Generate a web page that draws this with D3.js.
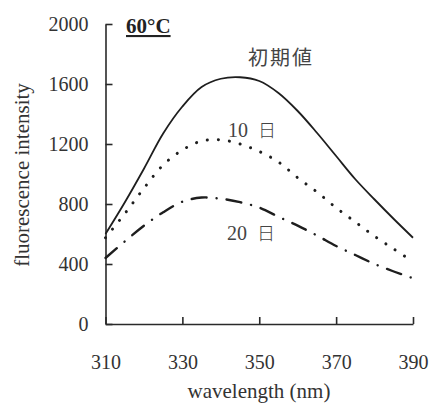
<!DOCTYPE html>
<html>
<head>
<meta charset="utf-8">
<script src="https://cdn.jsdelivr.net/npm/d3@7"></script>
<style>
    body { margin: 0; background: #fff; }
    svg text { font-family: "Liberation Serif", serif; }
</style>
</head>
<body>
<svg id="chart"></svg>
<script>
(function () {

    // Data (wavelength in nm, intensity)
    const wavelengths = [310, 315, 320, 325, 330, 335, 340, 345, 350, 355, 360, 365, 370, 375, 380, 385, 390];
    const initialValues = [600, 810, 1035, 1270, 1450, 1580, 1635, 1645, 1620, 1540, 1420, 1275, 1120, 965, 830, 700, 575];
    const day10Values = [575, 735, 905, 1060, 1160, 1220, 1228, 1200, 1150, 1080, 975, 880, 775, 680, 585, 500, 415];
    const day20Values = [440, 550, 655, 745, 815, 843, 835, 812, 776, 715, 656, 590, 520, 460, 400, 350, 305];
    const xTicks = [310, 330, 350, 370, 390];
    const yTicks = [0, 400, 800, 1200, 1600, 2000];

    const width = 430,
        height = 407;

    const svg = d3.select("#chart")
        .attr("width", width)
        .attr("height", height);

    const x = d3.scaleLinear().domain([310, 390]).range([105.5, 413]);
    const y = d3.scaleLinear().domain([0, 2000]).range([324, 24]);

    // Axes, ticks pointing inward
    const xAxis = svg.append("g")
        .attr("transform", "translate(0," + y(0) + ")")
        .call(d3.axisBottom(x).tickValues(xTicks).tickFormat(d3.format("d"))
            .tickSizeInner(-7).tickSizeOuter(0).tickPadding(31));

    const yAxis = svg.append("g")
        .attr("transform", "translate(" + x(310) + ",0)")
        .call(d3.axisLeft(y).tickValues(yTicks).tickFormat(d3.format("d"))
            .tickSizeInner(-7).tickSizeOuter(0).tickPadding(17));

    [xAxis, yAxis].forEach((g) => {
        g.attr("font-family", "Liberation Serif").attr("font-size", 20);
        g.selectAll("path, line").attr("stroke", "#2a2a2a").attr("stroke-width", 1.6);
        g.selectAll("text")
            .attr("fill", "#333")
            .attr("font-family", "Liberation Serif")
            .attr("font-size", 20);
    });
    yAxis.selectAll("text").attr("dy", "0.34em");

    // Curves
    const line = d3.line()
        .x((d) => x(d[0]))
        .y((d) => y(d[1]))
        .curve(d3.curveCatmullRom);

    const series = [
        { values: initialValues, dash: null, width: 1.8, cap: "butt" },
        { values: day10Values, dash: "0.1,11", width: 3, cap: "round" },
        { values: day20Values, dash: "15,10,0.1,10", width: 2.4, cap: "round" }
    ];

    series.forEach((s) => {
        svg.append("path")
            .datum(wavelengths.map((w, i) => [w, s.values[i]]))
            .attr("d", line)
            .attr("fill", "none")
            .attr("stroke", "#1e1e1e")
            .attr("stroke-width", s.width)
            .attr("stroke-linecap", s.cap)
            .attr("stroke-dasharray", s.dash);
    });

    // Title and labels
    svg.append("text")
        .attr("x", 126)
        .attr("y", 33)
        .attr("font-size", 21)
        .attr("font-weight", "bold")
        .style("text-decoration", "underline")
        .attr("fill", "#222")
        .text("60°C");

    svg.append("text")
        .attr("x", 248)
        .attr("y", 65)
        .style("font-family", "'Noto Sans CJK JP', sans-serif")
        .attr("font-size", 20)
        .attr("textLength", 64)
        .attr("fill", "#444")
        .text("初期値");

    const dayLabels = [
        { text: "10", x: 228, y: 137 },
        { text: "20", x: 227, y: 240 }
    ];

    dayLabels.forEach((d) => {
        const t = svg.append("text")
            .attr("x", d.x)
            .attr("y", d.y)
            .attr("fill", "#444");
        t.append("tspan")
            .attr("font-size", 20)
            .text(d.text);
        t.append("tspan")
            .attr("dx", 10)
            .style("font-family", "'Noto Sans CJK JP', sans-serif")
            .attr("font-size", 18)
            .attr("font-weight", 300)
            .text("日");
    });

    // Axis titles
    svg.append("text")
        .attr("x", 259)
        .attr("y", 398)
        .attr("text-anchor", "middle")
        .attr("font-size", 21)
        .attr("fill", "#333")
        .text("wavelength (nm)");

    svg.append("text")
        .attr("transform", "translate(29,175) rotate(-90)")
        .attr("text-anchor", "middle")
        .attr("font-size", 21)
        .attr("fill", "#333")
        .text("fluorescence intensity");
})();
</script>
</body>
</html>
